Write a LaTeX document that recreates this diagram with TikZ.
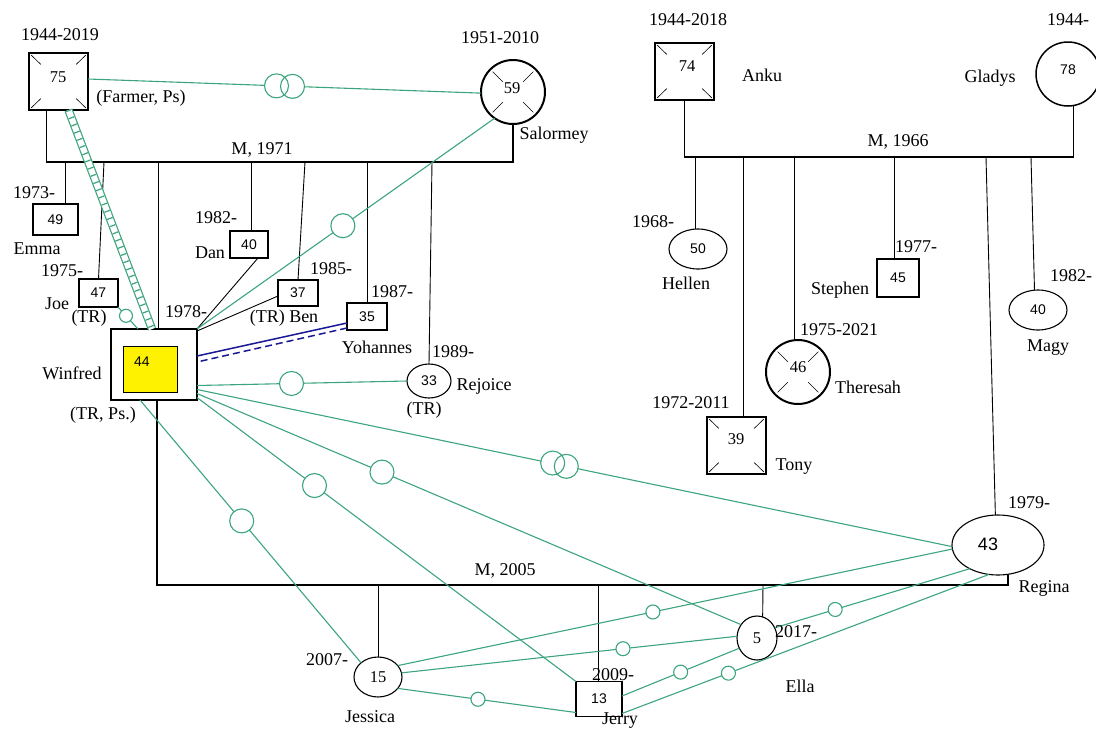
\documentclass[tikz,border=0pt]{standalone}
\usepackage{fontspec}
\setmainfont{Liberation Serif}
\setsansfont{Liberation Sans}
\usetikzlibrary{calc,shapes.geometric}
\definecolor{grn}{RGB}{60,165,125}
\definecolor{navy}{RGB}{25,25,150}
\newcommand\xsq[1]{\foreach \corner in {north west,north east,south west,south east}{\draw[line width=0.6pt] ($(#1.\corner)!0.07!(#1.center)$) -- ($(#1.\corner)!0.40!(#1.center)$);}}
\newcommand\xci[1]{\foreach \ang in {45,135,225,315}{\draw[line width=0.6pt] ($(#1.center)!0.45!(#1.\ang)$) -- ($(#1.center)!0.9!(#1.\ang)$);}}
\begin{document}
\begin{tikzpicture}[x=1pt,y=-1pt,
  every node/.style={inner sep=0pt,outer sep=0pt},
  lab/.style={font=\fontsize{18}{20}\selectfont},
  nse/.style={font=\fontsize{16.5}{18}\selectfont},
  nsf/.style={font=\sffamily\fontsize{14}{16}\selectfont},
  psq/.style={draw,rectangle,line width=1.1pt},
  dsq/.style={draw,rectangle,line width=2pt},
  pel/.style={draw,ellipse,line width=1.1pt},
  dci/.style={draw,circle,line width=2pt},
  blk/.style={draw=black,line width=1.3pt},
  kid/.style={draw=black,line width=0.9pt},
  gl/.style={draw=grn,line width=1.1pt},
  rel/.style={circle,draw=grn,fill=white,line width=1.1pt,minimum size=24pt},
  rels/.style={rel,minimum size=14pt}]
\useasboundingbox[fill=white] (0,0) rectangle (1096,729);

% ---------- persons ----------
\node[dsq,minimum width=59pt,minimum height=57pt] (fa) at (58.5,81.5) {};
\node[nse] (tfa) at (58,77) {75};
\node[dci,minimum size=64pt] (sal) at (513,92) {};
\node[nse] (tsal) at (512,88) {59};
\node[psq,minimum width=45pt,minimum height=31pt,nsf] (emma) at (55.5,219.5) {49};
\node[psq,minimum width=39pt,minimum height=28pt,nsf] (joe) at (98.5,293) {47};
\node[psq,minimum width=38pt,minimum height=27pt,nsf] (dan) at (249,244.5) {40};
\node[psq,minimum width=40pt,minimum height=26pt,nsf] (ben) at (298,293) {37};
\node[psq,minimum width=40pt,minimum height=27pt,nsf] (yoh) at (367,316.5) {35};
\node[pel,minimum width=44pt,minimum height=34pt,nsf] (rej) at (429,381) {33};
\node[psq,minimum width=86pt,minimum height=71pt] (win) at (154,364.5) {};
\node[draw,fill=yellow,line width=0.8pt,minimum width=54pt,minimum height=46pt] (winin) at (150,369) {};
\node[nsf] (twin) at (142,362) {44};

\node[dsq,minimum width=59pt,minimum height=57pt] (an) at (684.5,71.5) {};
\node[nse] (tan) at (687,66) {74};
\node[draw,circle,line width=1.5pt,minimum size=64pt] (gl) at (1068,74) {};
\node[nsf] (tgl) at (1068,70) {78};
\node[pel,minimum width=58pt,minimum height=40pt,nsf] (hel) at (698,249) {50};
\node[dsq,minimum width=59pt,minimum height=57pt] (tony) at (736.5,445.5) {};
\node[nse] (ttony) at (736,439) {39};
\node[dci,minimum size=64pt] (the) at (798,372) {};
\node[nse] (tthe) at (798,367) {46};
\node[psq,minimum width=42pt,minimum height=38pt,nsf] (ste) at (898,278) {45};
\node[pel,minimum width=58pt,minimum height=40pt,nsf] (mag) at (1038,310) {40};
\node[pel,minimum width=92pt,minimum height=60pt] (reg) at (998,545) {};
\node[font=\sffamily\fontsize{18}{20}\selectfont] (treg) at (988,544) {43};

\node[pel,minimum width=48pt,minimum height=40pt,nse] (jes) at (378,677) {15};
\node[psq,minimum width=46pt,minimum height=35pt,nsf] (jer) at (599,699) {13};
\node[pel,minimum width=40pt,minimum height=44pt,nse] (ella) at (757,638) {5};

\xsq{fa} \xci{sal} \xsq{an} \xsq{tony} \xci{the}

% ---------- family lines ----------
\coordinate (m1) at (300,162);
\draw[blk] ($(fa.south)+(-12,0)$) |- (m1) -| (sal.south);
\coordinate (m2) at (880,157);
\draw[blk] (an.south) |- (m2) -| (gl.-80);
\coordinate (m3) at (580,585);
\draw[blk] ($(win.south)+(3,0)$) |- (m3) -| ($(reg.south)+(10,0)$);

\coordinate (cEm) at (65,162);  \draw[kid] (cEm) -- (cEm |- emma.north);
\coordinate (cJo) at (104,162); \draw[kid] (cJo) -- (joe.north);
\coordinate (cWi) at (158,162); \draw[kid] (cWi) -- (cWi |- win.north);
\coordinate (cDa) at (251,162); \draw[kid] (cDa) -- (cDa |- dan.north);
\coordinate (cBe) at (305,162); \draw[kid] (cBe) -- (ben.north);
\coordinate (cYo) at (367,162); \draw[kid] (cYo) -- (cYo |- yoh.north);
\coordinate (cRe) at (432,162); \draw[kid] (cRe) -- (rej.north);

\coordinate (cHe) at (695,157);  \draw[kid] (cHe) -- (cHe |- hel.north);
\coordinate (cTo) at (743,157);  \draw[kid] (cTo) -- (cTo |- tony.north);
\coordinate (cTh) at (794,157);  \draw[kid] (cTh) -- (cTh |- the.north);
\coordinate (cSt) at (894,157);  \draw[kid] (cSt) -- (cSt |- ste.north);
\coordinate (cRg) at (986,157);  \draw[kid] (cRg) -- (reg.95);
\coordinate (cMa) at (1031,157); \draw[kid] (cMa) -- (mag.100);

\coordinate (cJs) at (378,585); \draw[kid] (cJs) -- (jes.north);
\coordinate (cJr) at (598,585); \draw[kid] (cJr) -- (cJr |- jer.north);
\coordinate (cEl) at (763,585); \draw[kid] (cEl) -- (ella.75);

\draw[kid] ($(dan.south)+(9,0)$) -- (win.north east);
\draw[kid] ($(ben.west)+(0,3)$) -- ($(win.north east)+(0,2)$);

% ---------- blue ----------
\draw[navy,line width=1.5pt] ($(yoh.west)+(0,6.5)$) -- ($(win.east)+(0,-8.5)$);
\draw[navy,line width=1.5pt,dash pattern=on 7pt off 4pt] ($(yoh.west)+(0,11.5)$) -- ($(win.east)+(0,-2.5)$);

% ---------- green relations ----------
\draw[gl] ($(fa.east)+(0,-2.5)$) -- coordinate[pos=.5] (d1) (sal.182);
\path ($(d1)!8pt!(fa.east)$) coordinate (d1a) ($(d1)!8pt!(sal.182)$) coordinate (d1b);
\fill[white] (d1a) circle[radius=12pt] (d1b) circle[radius=12pt];
\draw[gl] (d1a) circle[radius=12pt] (d1b) circle[radius=12pt];

\draw[grn,line width=1.2pt,double=white,double distance=6pt] ($(fa.south)+(10,0)$) -- ($(win.north)+(-2,0)$);
\draw[grn,line width=6pt,dash pattern=on 1.2pt off 6.5pt] ($(fa.south)+(10,0)$) -- ($(win.north)+(-2,0)$);

\draw[gl] (sal.235) -- node[pos=.51,rel] (r1) {} (win.north east);
\draw[gl] (joe.south east) -- node[pos=.4,rel,minimum size=13pt] (r2) {} ($(win.north west)+(27,0)$);
\draw[gl] ($(win.east)+(0,21)$) -- node[pos=.45,rel] (r3) {} (rej.west);
\draw[gl] ($(win.east)+(0,25)$) -- coordinate[pos=.48] (d2) (reg.182);
\path ($(d2)!7pt!(win.east)$) coordinate (d2a) ($(d2)!7pt!(reg.182)$) coordinate (d2b);
\fill[white] (d2a) circle[radius=12pt] (d2b) circle[radius=12pt];
\draw[gl] (d2a) circle[radius=12pt] (d2b) circle[radius=12pt];
\draw[gl] ($(win.east)+(0,29)$) -- node[pos=.34,rel] (r4) {} (ella.140);
\draw[gl] ($(win.east)+(0,33)$) -- node[pos=.31,rel] (r5) {} (jer.north west);
\draw[gl] ($(win.south)+(-14,0)$) -- node[pos=.46,rel] (r6) {} (jes.140);

\draw[gl] (reg.185) -- node[pos=.54,rels] (r7) {} (jes.30);
\draw[gl] (ella.175) -- node[pos=.34,rels] (r8) {} (jes.10);
\draw[gl] (jes.-30) -- node[pos=.45,rels] (r9) {} ($(jer.south west)+(0,-4)$);
\draw[gl] ($(jer.east)+(0,-3)$) -- node[pos=.5,rels] (r10) {} (ella.210);
\draw[gl] ($(jer.south east)+(0,-3)$) -- node[pos=.29,rels] (r11) {} (reg.253);
\draw[gl] (ella.30) -- node[pos=.31,rels] (r12) {} (reg.220);

% ---------- labels ----------
\node[lab] (l1) at (60,35) {1944-2019};
\node[lab] (l2) at (141,98) {(Farmer, Ps)};
\node[lab] (l3) at (500,38) {1951-2010};
\node[lab] (l4) at (554,135) {Salormey};
\node[lab] (l5) at (262,150) {M, 1971};
\node[lab] (l6) at (34,193) {1973-};
\node[lab] (l7) at (37,249) {Emma};
\node[lab] (l8) at (62,271) {1975-};
\node[lab] (l9) at (57,304) {Joe};
\node[lab] (l10) at (89,318) {(TR)};
\node[lab] (l11) at (216,218) {1982-};
\node[lab] (l12) at (210,253) {Dan};
\node[lab] (l13) at (186,312) {1978-};
\node[lab] (l14) at (331,269) {1985-};
\node[lab] (l15) at (284,318) {(TR) Ben};
\node[lab] (l16) at (392,292) {1987-};
\node[lab] (l17) at (377,347) {Yohannes};
\node[lab] (l18) at (453,352) {1989-};
\node[lab] (l19) at (484,386) {Rejoice};
\node[lab] (l20) at (424,410) {(TR)};
\node[lab] (l21) at (72,373) {Winfred};
\node[lab] (l22) at (103,415) {(TR, Ps.)};
\node[lab] (l23) at (688,20) {1944-2018};
\node[lab] (l24) at (762,75) {Anku};
\node[lab] (l25) at (990,78) {Gladys};
\node[lab] (l26) at (1068,20) {1944-};
\node[lab] (l27) at (898,142) {M, 1966};
\node[lab] (l28) at (653,222) {1968-};
\node[lab] (l29) at (686,283) {Hellen};
\node[lab] (l30) at (916,247) {1977-};
\node[lab] (l31) at (840,290) {Stephen};
\node[lab] (l32) at (1071,276) {1982-};
\node[lab] (l33) at (1048,348) {Magy};
\node[lab] (l34) at (839,330) {1975-2021};
\node[lab] (l35) at (868,387) {Theresah};
\node[lab] (l36) at (691,403) {1972-2011};
\node[lab] (l37) at (794,467) {Tony};
\node[lab] (l38) at (1029,503) {1979-};
\node[lab] (l39) at (1044,588) {Regina};
\node[lab] (l40) at (505,571) {M, 2005};
\node[lab] (l41) at (327,660) {2007-};
\node[lab] (l42) at (370,717) {Jessica};
\node[lab] (l43) at (613,675) {2009-};
\node[lab] (l44) at (620,721) {Jerry};
\node[lab] (l45) at (796,632) {2017-};
\node[lab] (l46) at (800,686) {Ella};
\end{tikzpicture}
\end{document}
